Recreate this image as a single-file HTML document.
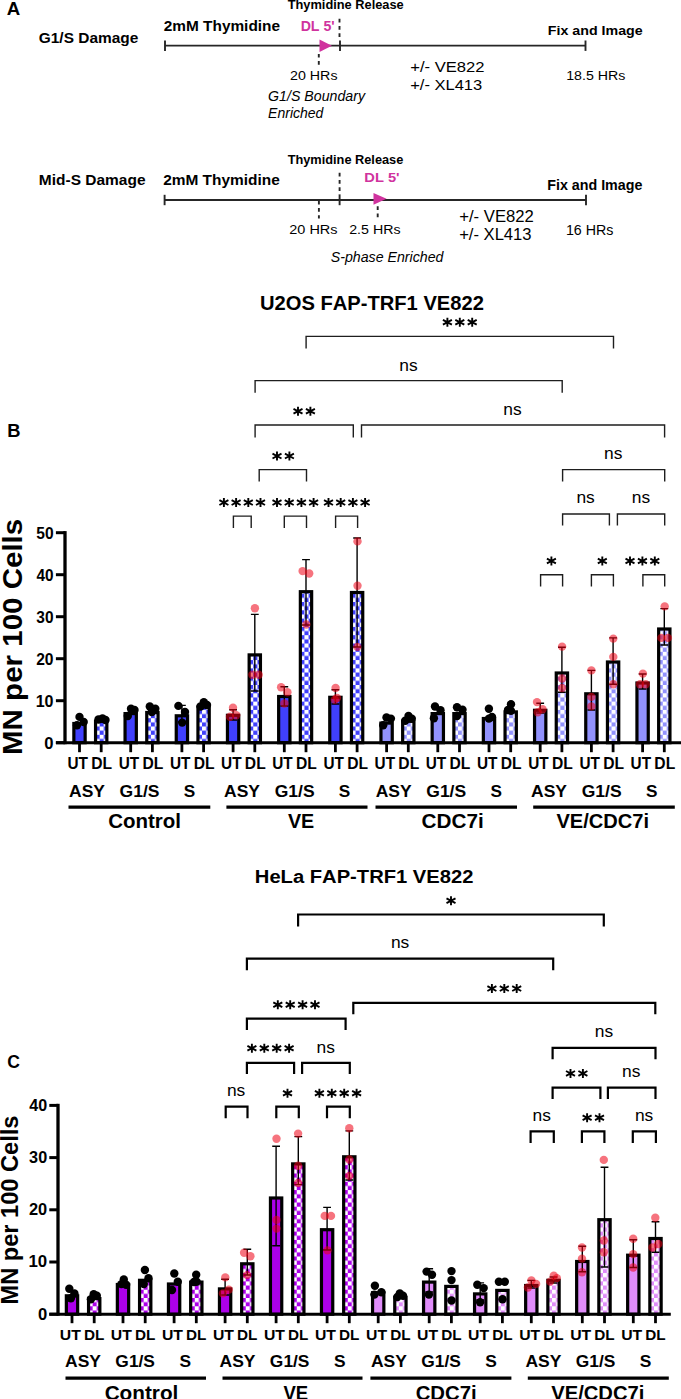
<!DOCTYPE html>
<html><head><meta charset="utf-8"><title>Figure</title>
<style>
html,body{margin:0;padding:0;background:#fff;width:681px;height:1399px;overflow:hidden;}
svg{display:block;}
text{font-family:"Liberation Sans",sans-serif;font-kerning:none;}
</style></head>
<body>
<svg width="681" height="1399" viewBox="0 0 681 1399">
<defs><pattern id="p1" patternUnits="userSpaceOnUse" x="99.65" y="743.10" width="8.3" height="8.3"><rect width="8.3" height="8.3" fill="#fff"/><rect x="0" y="4.15" width="4.15" height="4.15" fill="#4040fc"/><rect x="4.15" y="0" width="4.15" height="4.15" fill="#4040fc"/></pattern><pattern id="p2" patternUnits="userSpaceOnUse" x="150.85" y="743.10" width="8.3" height="8.3"><rect width="8.3" height="8.3" fill="#fff"/><rect x="0" y="4.15" width="4.15" height="4.15" fill="#4040fc"/><rect x="4.15" y="0" width="4.15" height="4.15" fill="#4040fc"/></pattern><pattern id="p3" patternUnits="userSpaceOnUse" x="202.05" y="743.10" width="8.3" height="8.3"><rect width="8.3" height="8.3" fill="#fff"/><rect x="0" y="4.15" width="4.15" height="4.15" fill="#4040fc"/><rect x="4.15" y="0" width="4.15" height="4.15" fill="#4040fc"/></pattern><pattern id="p4" patternUnits="userSpaceOnUse" x="253.25" y="743.10" width="8.3" height="8.3"><rect width="8.3" height="8.3" fill="#fff"/><rect x="0" y="4.15" width="4.15" height="4.15" fill="#4040fc"/><rect x="4.15" y="0" width="4.15" height="4.15" fill="#4040fc"/></pattern><pattern id="p5" patternUnits="userSpaceOnUse" x="304.45" y="743.10" width="8.3" height="8.3"><rect width="8.3" height="8.3" fill="#fff"/><rect x="0" y="4.15" width="4.15" height="4.15" fill="#4040fc"/><rect x="4.15" y="0" width="4.15" height="4.15" fill="#4040fc"/></pattern><pattern id="p6" patternUnits="userSpaceOnUse" x="355.55" y="743.10" width="8.3" height="8.3"><rect width="8.3" height="8.3" fill="#fff"/><rect x="0" y="4.15" width="4.15" height="4.15" fill="#4040fc"/><rect x="4.15" y="0" width="4.15" height="4.15" fill="#4040fc"/></pattern><pattern id="p7" patternUnits="userSpaceOnUse" x="406.75" y="743.10" width="8.3" height="8.3"><rect width="8.3" height="8.3" fill="#fff"/><rect x="0" y="4.15" width="4.15" height="4.15" fill="#9292fd"/><rect x="4.15" y="0" width="4.15" height="4.15" fill="#9292fd"/></pattern><pattern id="p8" patternUnits="userSpaceOnUse" x="457.95" y="743.10" width="8.3" height="8.3"><rect width="8.3" height="8.3" fill="#fff"/><rect x="0" y="4.15" width="4.15" height="4.15" fill="#9292fd"/><rect x="4.15" y="0" width="4.15" height="4.15" fill="#9292fd"/></pattern><pattern id="p9" patternUnits="userSpaceOnUse" x="509.15" y="743.10" width="8.3" height="8.3"><rect width="8.3" height="8.3" fill="#fff"/><rect x="0" y="4.15" width="4.15" height="4.15" fill="#9292fd"/><rect x="4.15" y="0" width="4.15" height="4.15" fill="#9292fd"/></pattern><pattern id="p10" patternUnits="userSpaceOnUse" x="560.35" y="743.10" width="8.3" height="8.3"><rect width="8.3" height="8.3" fill="#fff"/><rect x="0" y="4.15" width="4.15" height="4.15" fill="#9292fd"/><rect x="4.15" y="0" width="4.15" height="4.15" fill="#9292fd"/></pattern><pattern id="p11" patternUnits="userSpaceOnUse" x="611.55" y="743.10" width="8.3" height="8.3"><rect width="8.3" height="8.3" fill="#fff"/><rect x="0" y="4.15" width="4.15" height="4.15" fill="#9292fd"/><rect x="4.15" y="0" width="4.15" height="4.15" fill="#9292fd"/></pattern><pattern id="p12" patternUnits="userSpaceOnUse" x="662.75" y="743.10" width="8.3" height="8.3"><rect width="8.3" height="8.3" fill="#fff"/><rect x="0" y="4.15" width="4.15" height="4.15" fill="#9292fd"/><rect x="4.15" y="0" width="4.15" height="4.15" fill="#9292fd"/></pattern><pattern id="p13" patternUnits="userSpaceOnUse" x="92.65" y="1314.60" width="8.3" height="8.3"><rect width="8.3" height="8.3" fill="#fff"/><rect x="0" y="4.15" width="4.15" height="4.15" fill="#ac00ea"/><rect x="4.15" y="0" width="4.15" height="4.15" fill="#ac00ea"/></pattern><pattern id="p14" patternUnits="userSpaceOnUse" x="143.65" y="1314.60" width="8.3" height="8.3"><rect width="8.3" height="8.3" fill="#fff"/><rect x="0" y="4.15" width="4.15" height="4.15" fill="#ac00ea"/><rect x="4.15" y="0" width="4.15" height="4.15" fill="#ac00ea"/></pattern><pattern id="p15" patternUnits="userSpaceOnUse" x="194.75" y="1314.60" width="8.3" height="8.3"><rect width="8.3" height="8.3" fill="#fff"/><rect x="0" y="4.15" width="4.15" height="4.15" fill="#ac00ea"/><rect x="4.15" y="0" width="4.15" height="4.15" fill="#ac00ea"/></pattern><pattern id="p16" patternUnits="userSpaceOnUse" x="245.75" y="1314.60" width="8.3" height="8.3"><rect width="8.3" height="8.3" fill="#fff"/><rect x="0" y="4.15" width="4.15" height="4.15" fill="#ac00ea"/><rect x="4.15" y="0" width="4.15" height="4.15" fill="#ac00ea"/></pattern><pattern id="p17" patternUnits="userSpaceOnUse" x="296.75" y="1314.60" width="8.3" height="8.3"><rect width="8.3" height="8.3" fill="#fff"/><rect x="0" y="4.15" width="4.15" height="4.15" fill="#ac00ea"/><rect x="4.15" y="0" width="4.15" height="4.15" fill="#ac00ea"/></pattern><pattern id="p18" patternUnits="userSpaceOnUse" x="347.75" y="1314.60" width="8.3" height="8.3"><rect width="8.3" height="8.3" fill="#fff"/><rect x="0" y="4.15" width="4.15" height="4.15" fill="#ac00ea"/><rect x="4.15" y="0" width="4.15" height="4.15" fill="#ac00ea"/></pattern><pattern id="p19" patternUnits="userSpaceOnUse" x="398.85" y="1314.60" width="8.3" height="8.3"><rect width="8.3" height="8.3" fill="#fff"/><rect x="0" y="4.15" width="4.15" height="4.15" fill="#e08cfa"/><rect x="4.15" y="0" width="4.15" height="4.15" fill="#e08cfa"/></pattern><pattern id="p20" patternUnits="userSpaceOnUse" x="449.85" y="1314.60" width="8.3" height="8.3"><rect width="8.3" height="8.3" fill="#fff"/><rect x="0" y="4.15" width="4.15" height="4.15" fill="#e08cfa"/><rect x="4.15" y="0" width="4.15" height="4.15" fill="#e08cfa"/></pattern><pattern id="p21" patternUnits="userSpaceOnUse" x="500.85" y="1314.60" width="8.3" height="8.3"><rect width="8.3" height="8.3" fill="#fff"/><rect x="0" y="4.15" width="4.15" height="4.15" fill="#e08cfa"/><rect x="4.15" y="0" width="4.15" height="4.15" fill="#e08cfa"/></pattern><pattern id="p22" patternUnits="userSpaceOnUse" x="551.95" y="1314.60" width="8.3" height="8.3"><rect width="8.3" height="8.3" fill="#fff"/><rect x="0" y="4.15" width="4.15" height="4.15" fill="#e08cfa"/><rect x="4.15" y="0" width="4.15" height="4.15" fill="#e08cfa"/></pattern><pattern id="p23" patternUnits="userSpaceOnUse" x="602.95" y="1314.60" width="8.3" height="8.3"><rect width="8.3" height="8.3" fill="#fff"/><rect x="0" y="4.15" width="4.15" height="4.15" fill="#e08cfa"/><rect x="4.15" y="0" width="4.15" height="4.15" fill="#e08cfa"/></pattern><pattern id="p24" patternUnits="userSpaceOnUse" x="653.95" y="1314.60" width="8.3" height="8.3"><rect width="8.3" height="8.3" fill="#fff"/><rect x="0" y="4.15" width="4.15" height="4.15" fill="#e08cfa"/><rect x="4.15" y="0" width="4.15" height="4.15" fill="#e08cfa"/></pattern></defs>
<text x="6.84" y="14.60" font-size="18.02" textLength="13.46" lengthAdjust="spacingAndGlyphs" font-weight="bold">A</text>
<text x="38.77" y="43.10" font-size="15.12" textLength="99.56" lengthAdjust="spacingAndGlyphs" font-weight="bold">G1/S Damage</text>
<text x="163.77" y="30.80" font-size="14.39" textLength="116.26" lengthAdjust="spacingAndGlyphs" font-weight="bold">2mM Thymidine</text>
<text x="287.66" y="8.80" font-size="12.79" textLength="116.08" lengthAdjust="spacingAndGlyphs" font-weight="bold">Thymidine Release</text>
<text x="300.65" y="30.80" font-size="14.39" textLength="34.08" lengthAdjust="spacingAndGlyphs" font-weight="bold" fill="#d0339e">DL 5&#39;</text>
<text x="290.08" y="80.30" font-size="13.66" textLength="47.43" lengthAdjust="spacingAndGlyphs">20 HRs</text>
<text x="268.10" y="101.40" font-size="14.10" textLength="96.89" lengthAdjust="spacingAndGlyphs" font-style="italic">G1/S Boundary</text>
<text x="268.07" y="117.80" font-size="14.39" textLength="55.36" lengthAdjust="spacingAndGlyphs" font-style="italic">Enriched</text>
<text x="410.19" y="71.70" font-size="15.55" textLength="74.35" lengthAdjust="spacingAndGlyphs">+/- VE822</text>
<text x="410.19" y="90.40" font-size="15.55" textLength="72.03" lengthAdjust="spacingAndGlyphs">+/- XL413</text>
<text x="547.85" y="35.30" font-size="13.66" textLength="94.84" lengthAdjust="spacingAndGlyphs" font-weight="bold">Fix and Image</text>
<text x="566.22" y="79.80" font-size="13.08" textLength="59.19" lengthAdjust="spacingAndGlyphs">18.5 HRs</text>
<text x="38.86" y="185.20" font-size="15.26" textLength="106.66" lengthAdjust="spacingAndGlyphs" font-weight="bold">Mid-S Damage</text>
<text x="163.16" y="185.00" font-size="14.83" textLength="116.66" lengthAdjust="spacingAndGlyphs" font-weight="bold">2mM Thymidine</text>
<text x="287.66" y="163.50" font-size="12.79" textLength="115.68" lengthAdjust="spacingAndGlyphs" font-weight="bold">Thymidine Release</text>
<text x="364.32" y="182.00" font-size="13.37" textLength="35.24" lengthAdjust="spacingAndGlyphs" font-weight="bold" fill="#d0339e">DL 5&#39;</text>
<text x="289.27" y="233.70" font-size="13.37" textLength="48.25" lengthAdjust="spacingAndGlyphs">20 HRs</text>
<text x="349.19" y="233.70" font-size="13.37" textLength="51.33" lengthAdjust="spacingAndGlyphs">2.5 HRs</text>
<text x="330.70" y="262.00" font-size="13.81" textLength="112.83" lengthAdjust="spacingAndGlyphs" font-style="italic">S-phase Enriched</text>
<text x="547.25" y="190.20" font-size="13.95" textLength="95.14" lengthAdjust="spacingAndGlyphs" font-weight="bold">Fix and Image</text>
<text x="459.19" y="222.00" font-size="15.70" textLength="74.65" lengthAdjust="spacingAndGlyphs">+/- VE822</text>
<text x="459.19" y="240.40" font-size="15.70" textLength="72.34" lengthAdjust="spacingAndGlyphs">+/- XL413</text>
<text x="565.91" y="234.50" font-size="13.95" textLength="47.50" lengthAdjust="spacingAndGlyphs">16 HRs</text>
<line x1="165" y1="45.7" x2="585.5" y2="45.7" stroke="#262626" stroke-width="1.8"/><line x1="165" y1="40.5" x2="165" y2="50.900000000000006" stroke="#262626" stroke-width="1.9"/><line x1="340" y1="40.5" x2="340" y2="50.900000000000006" stroke="#262626" stroke-width="1.9"/><line x1="585.5" y1="40.5" x2="585.5" y2="50.900000000000006" stroke="#262626" stroke-width="1.9"/>
<line x1="339.5" y1="18.8" x2="339.5" y2="40.0" stroke="#262626" stroke-width="1.9" stroke-dasharray="3.7 3.5"/>
<line x1="318.8" y1="53.9" x2="318.8" y2="65.0" stroke="#262626" stroke-width="1.9" stroke-dasharray="3.7 3.5"/>
<polygon points="319.5,39.5 331.9,45.75 319.5,52.0" fill="#d0339e"/>
<line x1="164.6" y1="200.0" x2="586.0" y2="200.0" stroke="#262626" stroke-width="1.8"/><line x1="164.6" y1="194.8" x2="164.6" y2="205.2" stroke="#262626" stroke-width="1.9"/><line x1="339.6" y1="194.8" x2="339.6" y2="205.2" stroke="#262626" stroke-width="1.9"/><line x1="586.0" y1="194.8" x2="586.0" y2="205.2" stroke="#262626" stroke-width="1.9"/>
<line x1="339.6" y1="172.8" x2="339.6" y2="195.0" stroke="#262626" stroke-width="1.9" stroke-dasharray="3.7 3.5"/>
<line x1="318.9" y1="200.8" x2="318.9" y2="218.5" stroke="#262626" stroke-width="1.9" stroke-dasharray="3.7 3.5"/>
<line x1="377.7" y1="206.3" x2="377.7" y2="218.5" stroke="#262626" stroke-width="1.9" stroke-dasharray="3.7 3.5"/>
<polygon points="373.5,192.9 386.5,198.85000000000002 373.5,204.8" fill="#d0339e"/>
<rect x="73.85" y="723.50" width="11.3" height="19.20" fill="#4040fc" stroke="#000" stroke-width="3.2"/><rect x="95.55" y="721.30" width="11.3" height="21.40" fill="url(#p1)" stroke="#000" stroke-width="3.2"/><rect x="125.05" y="713.60" width="11.3" height="29.10" fill="#4040fc" stroke="#000" stroke-width="3.2"/><rect x="146.75" y="712.50" width="11.3" height="30.20" fill="url(#p2)" stroke="#000" stroke-width="3.2"/><rect x="176.25" y="715.80" width="11.3" height="26.90" fill="#4040fc" stroke="#000" stroke-width="3.2"/><rect x="197.95" y="707.00" width="11.3" height="35.70" fill="url(#p3)" stroke="#000" stroke-width="3.2"/><rect x="227.45" y="715.30" width="11.3" height="27.40" fill="#4040fc" stroke="#000" stroke-width="3.2"/><rect x="249.15" y="654.90" width="11.3" height="87.80" fill="url(#p4)" stroke="#000" stroke-width="3.2"/><rect x="278.65" y="696.50" width="11.3" height="46.20" fill="#4040fc" stroke="#000" stroke-width="3.2"/><rect x="300.35" y="591.70" width="11.3" height="151.00" fill="url(#p5)" stroke="#000" stroke-width="3.2"/><rect x="329.75" y="697.30" width="11.3" height="45.40" fill="#4040fc" stroke="#000" stroke-width="3.2"/><rect x="351.45" y="592.50" width="11.3" height="150.20" fill="url(#p6)" stroke="#000" stroke-width="3.2"/><rect x="380.95" y="723.10" width="11.3" height="19.60" fill="#9292fd" stroke="#000" stroke-width="3.2"/><rect x="402.65" y="721.30" width="11.3" height="21.40" fill="url(#p7)" stroke="#000" stroke-width="3.2"/><rect x="432.15" y="713.60" width="11.3" height="29.10" fill="#9292fd" stroke="#000" stroke-width="3.2"/><rect x="453.85" y="713.60" width="11.3" height="29.10" fill="url(#p8)" stroke="#000" stroke-width="3.2"/><rect x="483.35" y="718.50" width="11.3" height="24.20" fill="#9292fd" stroke="#000" stroke-width="3.2"/><rect x="505.05" y="711.90" width="11.3" height="30.80" fill="url(#p9)" stroke="#000" stroke-width="3.2"/><rect x="534.55" y="710.30" width="11.3" height="32.40" fill="#9292fd" stroke="#000" stroke-width="3.2"/><rect x="556.25" y="673.00" width="11.3" height="69.70" fill="url(#p10)" stroke="#000" stroke-width="3.2"/><rect x="585.75" y="693.80" width="11.3" height="48.90" fill="#9292fd" stroke="#000" stroke-width="3.2"/><rect x="607.45" y="662.00" width="11.3" height="80.70" fill="url(#p11)" stroke="#000" stroke-width="3.2"/><rect x="636.95" y="683.00" width="11.3" height="59.70" fill="#9292fd" stroke="#000" stroke-width="3.2"/><rect x="658.65" y="629.00" width="11.3" height="113.70" fill="url(#p12)" stroke="#000" stroke-width="3.2"/><circle cx="79.5" cy="716.9" r="4.2" fill="#000"/><circle cx="83.7" cy="722" r="4.2" fill="#000"/><circle cx="77" cy="725.2" r="4.2" fill="#000"/><circle cx="98.5" cy="719.5" r="4.2" fill="#000"/><circle cx="102.5" cy="718.5" r="4.2" fill="#000"/><circle cx="105.5" cy="720" r="4.2" fill="#000"/><circle cx="131" cy="708.7" r="4.2" fill="#000"/><circle cx="127.8" cy="716" r="4.2" fill="#000"/><circle cx="134.5" cy="710" r="4.2" fill="#000"/><circle cx="149.8" cy="706.5" r="4.2" fill="#000"/><circle cx="155.3" cy="708.7" r="4.2" fill="#000"/><circle cx="151.8" cy="712" r="4.2" fill="#000"/><circle cx="178.4" cy="705.9" r="4.2" fill="#000"/><circle cx="185" cy="712" r="4.2" fill="#000"/><circle cx="182.2" cy="722.6" r="4.2" fill="#000"/><path d="M181.9 705.4V722M178.0 705.4H185.8M178.0 722H185.8" stroke="#000" stroke-width="1.4" fill="none"/><circle cx="203.8" cy="702.1" r="4.2" fill="#000"/><circle cx="207" cy="705" r="4.2" fill="#000"/><circle cx="200.5" cy="706.5" r="4.2" fill="#000"/><path d="M233.1 709.8V720M229.2 709.8H237.0M229.2 720H237.0" stroke="#000" stroke-width="1.4" fill="none"/><circle cx="233" cy="707.8" r="4.2" fill="#ee0014" fill-opacity="0.55"/><circle cx="230" cy="716.8" r="4.2" fill="#ee0014" fill-opacity="0.55"/><circle cx="236.2" cy="715.3" r="4.2" fill="#ee0014" fill-opacity="0.55"/><path d="M254.8 614.4V691M250.9 614.4H258.7M250.9 691H258.7" stroke="#000" stroke-width="1.4" fill="none"/><circle cx="254.9" cy="608.2" r="4.2" fill="#ee0014" fill-opacity="0.55"/><circle cx="252.4" cy="674.8" r="4.2" fill="#ee0014" fill-opacity="0.55"/><circle cx="258.7" cy="674.8" r="4.2" fill="#ee0014" fill-opacity="0.55"/><path d="M284.3 686.8V706M280.40000000000003 686.8H288.2M280.40000000000003 706H288.2" stroke="#000" stroke-width="1.4" fill="none"/><circle cx="281.1" cy="687.3" r="4.2" fill="#ee0014" fill-opacity="0.55"/><circle cx="287.4" cy="692.3" r="4.2" fill="#ee0014" fill-opacity="0.55"/><circle cx="284.4" cy="703.5" r="4.2" fill="#ee0014" fill-opacity="0.55"/><path d="M306.0 559.6V625M302.1 559.6H309.9M302.1 625H309.9" stroke="#000" stroke-width="1.4" fill="none"/><circle cx="302.6" cy="571.1" r="4.2" fill="#ee0014" fill-opacity="0.55"/><circle cx="309.2" cy="573.5" r="4.2" fill="#ee0014" fill-opacity="0.55"/><circle cx="306.3" cy="624.5" r="4.2" fill="#ee0014" fill-opacity="0.55"/><path d="M335.4 689.8V704M331.5 689.8H339.29999999999995M331.5 704H339.29999999999995" stroke="#000" stroke-width="1.4" fill="none"/><circle cx="335.6" cy="688" r="4.2" fill="#ee0014" fill-opacity="0.55"/><circle cx="334.8" cy="699.8" r="4.2" fill="#ee0014" fill-opacity="0.55"/><circle cx="337" cy="698" r="4.2" fill="#ee0014" fill-opacity="0.55"/><path d="M357.1 538.0V647M353.20000000000005 538.0H361.0M353.20000000000005 647H361.0" stroke="#000" stroke-width="1.4" fill="none"/><circle cx="357.5" cy="541.4" r="4.2" fill="#ee0014" fill-opacity="0.55"/><circle cx="357.5" cy="585.7" r="4.2" fill="#ee0014" fill-opacity="0.55"/><circle cx="357.3" cy="646.9" r="4.2" fill="#ee0014" fill-opacity="0.55"/><circle cx="386.5" cy="717.5" r="4.2" fill="#000"/><circle cx="390.9" cy="718.6" r="4.2" fill="#000"/><circle cx="383.2" cy="725.2" r="4.2" fill="#000"/><circle cx="408.5" cy="716" r="4.2" fill="#000"/><circle cx="411.8" cy="718.6" r="4.2" fill="#000"/><circle cx="405.2" cy="720.8" r="4.2" fill="#000"/><circle cx="435" cy="706.5" r="4.2" fill="#000"/><circle cx="440.5" cy="710.3" r="4.2" fill="#000"/><circle cx="433.9" cy="718.2" r="4.2" fill="#000"/><circle cx="457" cy="707.2" r="4.2" fill="#000"/><circle cx="462.5" cy="709.8" r="4.2" fill="#000"/><circle cx="457" cy="716" r="4.2" fill="#000"/><circle cx="488.9" cy="708.7" r="4.2" fill="#000"/><circle cx="488.9" cy="718.6" r="4.2" fill="#000"/><circle cx="492" cy="717" r="4.2" fill="#000"/><circle cx="511" cy="704.3" r="4.2" fill="#000"/><circle cx="511" cy="710.9" r="4.2" fill="#000"/><circle cx="508" cy="710" r="4.2" fill="#000"/><path d="M540.2 703.3V713M536.3000000000001 703.3H544.1M536.3000000000001 713H544.1" stroke="#000" stroke-width="1.4" fill="none"/><circle cx="537" cy="702.1" r="4.2" fill="#ee0014" fill-opacity="0.55"/><circle cx="542.5" cy="709.2" r="4.2" fill="#ee0014" fill-opacity="0.55"/><circle cx="537.7" cy="712.3" r="4.2" fill="#ee0014" fill-opacity="0.55"/><path d="M561.9 647.3V692.2M558.0 647.3H565.8M558.0 692.2H565.8" stroke="#000" stroke-width="1.4" fill="none"/><circle cx="562.1" cy="646.6" r="4.2" fill="#ee0014" fill-opacity="0.55"/><circle cx="562.1" cy="678.5" r="4.2" fill="#ee0014" fill-opacity="0.55"/><circle cx="562.1" cy="688" r="4.2" fill="#ee0014" fill-opacity="0.55"/><path d="M591.4 670.4V710M587.5 670.4H595.3M587.5 710H595.3" stroke="#000" stroke-width="1.4" fill="none"/><circle cx="591.4" cy="670.4" r="4.2" fill="#ee0014" fill-opacity="0.55"/><circle cx="591.4" cy="696.9" r="4.2" fill="#ee0014" fill-opacity="0.55"/><circle cx="591.4" cy="706.4" r="4.2" fill="#ee0014" fill-opacity="0.55"/><path d="M613.1 637.9V684.3M609.2 637.9H617.0M609.2 684.3H617.0" stroke="#000" stroke-width="1.4" fill="none"/><circle cx="613.3" cy="638.6" r="4.2" fill="#ee0014" fill-opacity="0.55"/><circle cx="613.3" cy="656.9" r="4.2" fill="#ee0014" fill-opacity="0.55"/><circle cx="613.3" cy="684.3" r="4.2" fill="#ee0014" fill-opacity="0.55"/><path d="M642.6 674.0V689M638.7 674.0H646.5M638.7 689H646.5" stroke="#000" stroke-width="1.4" fill="none"/><circle cx="642.9" cy="673.6" r="4.2" fill="#ee0014" fill-opacity="0.55"/><circle cx="640" cy="684.3" r="4.2" fill="#ee0014" fill-opacity="0.55"/><circle cx="645.7" cy="684.3" r="4.2" fill="#ee0014" fill-opacity="0.55"/><path d="M664.3 608.6V645M660.4 608.6H668.1999999999999M660.4 645H668.1999999999999" stroke="#000" stroke-width="1.4" fill="none"/><circle cx="664.7" cy="606.4" r="4.2" fill="#ee0014" fill-opacity="0.55"/><circle cx="661.4" cy="637.9" r="4.2" fill="#ee0014" fill-opacity="0.55"/><circle cx="667.9" cy="637.9" r="4.2" fill="#ee0014" fill-opacity="0.55"/><line x1="65.0" y1="531.10" x2="65.0" y2="744.20" stroke="#000" stroke-width="3.3"/><line x1="55.9" y1="742.7" x2="681" y2="742.7" stroke="#000" stroke-width="3.0"/><line x1="55.9" y1="742.70" x2="65.0" y2="742.70" stroke="#000" stroke-width="3.0"/><line x1="55.9" y1="700.70" x2="65.0" y2="700.70" stroke="#000" stroke-width="3.0"/><line x1="55.9" y1="658.70" x2="65.0" y2="658.70" stroke="#000" stroke-width="3.0"/><line x1="55.9" y1="616.70" x2="65.0" y2="616.70" stroke="#000" stroke-width="3.0"/><line x1="55.9" y1="574.70" x2="65.0" y2="574.70" stroke="#000" stroke-width="3.0"/><line x1="55.9" y1="532.70" x2="65.0" y2="532.70" stroke="#000" stroke-width="3.0"/><line x1="79.5" y1="742.7" x2="79.5" y2="752.2" stroke="#000" stroke-width="2.8"/><line x1="101.2" y1="742.7" x2="101.2" y2="752.2" stroke="#000" stroke-width="2.8"/><line x1="130.7" y1="742.7" x2="130.7" y2="752.2" stroke="#000" stroke-width="2.8"/><line x1="152.4" y1="742.7" x2="152.4" y2="752.2" stroke="#000" stroke-width="2.8"/><line x1="181.9" y1="742.7" x2="181.9" y2="752.2" stroke="#000" stroke-width="2.8"/><line x1="203.6" y1="742.7" x2="203.6" y2="752.2" stroke="#000" stroke-width="2.8"/><line x1="233.1" y1="742.7" x2="233.1" y2="752.2" stroke="#000" stroke-width="2.8"/><line x1="254.8" y1="742.7" x2="254.8" y2="752.2" stroke="#000" stroke-width="2.8"/><line x1="284.3" y1="742.7" x2="284.3" y2="752.2" stroke="#000" stroke-width="2.8"/><line x1="306.0" y1="742.7" x2="306.0" y2="752.2" stroke="#000" stroke-width="2.8"/><line x1="335.4" y1="742.7" x2="335.4" y2="752.2" stroke="#000" stroke-width="2.8"/><line x1="357.1" y1="742.7" x2="357.1" y2="752.2" stroke="#000" stroke-width="2.8"/><line x1="386.6" y1="742.7" x2="386.6" y2="752.2" stroke="#000" stroke-width="2.8"/><line x1="408.3" y1="742.7" x2="408.3" y2="752.2" stroke="#000" stroke-width="2.8"/><line x1="437.8" y1="742.7" x2="437.8" y2="752.2" stroke="#000" stroke-width="2.8"/><line x1="459.5" y1="742.7" x2="459.5" y2="752.2" stroke="#000" stroke-width="2.8"/><line x1="489.0" y1="742.7" x2="489.0" y2="752.2" stroke="#000" stroke-width="2.8"/><line x1="510.7" y1="742.7" x2="510.7" y2="752.2" stroke="#000" stroke-width="2.8"/><line x1="540.2" y1="742.7" x2="540.2" y2="752.2" stroke="#000" stroke-width="2.8"/><line x1="561.9" y1="742.7" x2="561.9" y2="752.2" stroke="#000" stroke-width="2.8"/><line x1="591.4" y1="742.7" x2="591.4" y2="752.2" stroke="#000" stroke-width="2.8"/><line x1="613.1" y1="742.7" x2="613.1" y2="752.2" stroke="#000" stroke-width="2.8"/><line x1="642.6" y1="742.7" x2="642.6" y2="752.2" stroke="#000" stroke-width="2.8"/><line x1="664.3" y1="742.7" x2="664.3" y2="752.2" stroke="#000" stroke-width="2.8"/>
<text x="259.99" y="309.80" font-size="19.48" textLength="223.92" lengthAdjust="spacingAndGlyphs" font-weight="bold">U2OS FAP-TRF1 VE822</text>
<text x="7.17" y="436.90" font-size="18.75" textLength="13.26" lengthAdjust="spacingAndGlyphs" font-weight="bold">B</text>
<text transform="translate(22.00,754.97) rotate(-90)" x="0" y="0" font-size="28.20" font-weight="bold" textLength="236.18" lengthAdjust="spacingAndGlyphs">MN per 100 Cells</text>
<text x="44.34" y="749.00" font-size="15.99" textLength="9.24" lengthAdjust="spacingAndGlyphs" font-weight="bold">0</text>
<text x="35.69" y="707.00" font-size="15.99" textLength="17.87" lengthAdjust="spacingAndGlyphs" font-weight="bold">10</text>
<text x="36.16" y="665.00" font-size="15.99" textLength="17.38" lengthAdjust="spacingAndGlyphs" font-weight="bold">20</text>
<text x="36.35" y="623.00" font-size="15.99" textLength="17.19" lengthAdjust="spacingAndGlyphs" font-weight="bold">30</text>
<text x="36.47" y="581.00" font-size="15.99" textLength="17.06" lengthAdjust="spacingAndGlyphs" font-weight="bold">40</text>
<text x="36.22" y="539.00" font-size="15.99" textLength="17.32" lengthAdjust="spacingAndGlyphs" font-weight="bold">50</text>
<text x="67.48" y="768.80" font-size="16.28" textLength="20.49" lengthAdjust="spacingAndGlyphs" font-weight="bold">UT</text>
<text x="91.25" y="768.80" font-size="16.28" textLength="20.83" lengthAdjust="spacingAndGlyphs" font-weight="bold">DL</text>
<text x="118.68" y="768.80" font-size="16.28" textLength="20.49" lengthAdjust="spacingAndGlyphs" font-weight="bold">UT</text>
<text x="142.45" y="768.80" font-size="16.28" textLength="20.83" lengthAdjust="spacingAndGlyphs" font-weight="bold">DL</text>
<text x="169.88" y="768.80" font-size="16.28" textLength="20.49" lengthAdjust="spacingAndGlyphs" font-weight="bold">UT</text>
<text x="193.65" y="768.80" font-size="16.28" textLength="20.83" lengthAdjust="spacingAndGlyphs" font-weight="bold">DL</text>
<text x="221.08" y="768.80" font-size="16.28" textLength="20.49" lengthAdjust="spacingAndGlyphs" font-weight="bold">UT</text>
<text x="244.85" y="768.80" font-size="16.28" textLength="20.83" lengthAdjust="spacingAndGlyphs" font-weight="bold">DL</text>
<text x="272.28" y="768.80" font-size="16.28" textLength="20.49" lengthAdjust="spacingAndGlyphs" font-weight="bold">UT</text>
<text x="296.05" y="768.80" font-size="16.28" textLength="20.83" lengthAdjust="spacingAndGlyphs" font-weight="bold">DL</text>
<text x="323.38" y="768.80" font-size="16.28" textLength="20.49" lengthAdjust="spacingAndGlyphs" font-weight="bold">UT</text>
<text x="347.15" y="768.80" font-size="16.28" textLength="20.83" lengthAdjust="spacingAndGlyphs" font-weight="bold">DL</text>
<text x="374.58" y="768.80" font-size="16.28" textLength="20.49" lengthAdjust="spacingAndGlyphs" font-weight="bold">UT</text>
<text x="398.35" y="768.80" font-size="16.28" textLength="20.83" lengthAdjust="spacingAndGlyphs" font-weight="bold">DL</text>
<text x="425.78" y="768.80" font-size="16.28" textLength="20.49" lengthAdjust="spacingAndGlyphs" font-weight="bold">UT</text>
<text x="449.55" y="768.80" font-size="16.28" textLength="20.83" lengthAdjust="spacingAndGlyphs" font-weight="bold">DL</text>
<text x="476.98" y="768.80" font-size="16.28" textLength="20.49" lengthAdjust="spacingAndGlyphs" font-weight="bold">UT</text>
<text x="500.75" y="768.80" font-size="16.28" textLength="20.83" lengthAdjust="spacingAndGlyphs" font-weight="bold">DL</text>
<text x="528.18" y="768.80" font-size="16.28" textLength="20.49" lengthAdjust="spacingAndGlyphs" font-weight="bold">UT</text>
<text x="551.95" y="768.80" font-size="16.28" textLength="20.83" lengthAdjust="spacingAndGlyphs" font-weight="bold">DL</text>
<text x="579.38" y="768.80" font-size="16.28" textLength="20.49" lengthAdjust="spacingAndGlyphs" font-weight="bold">UT</text>
<text x="603.15" y="768.80" font-size="16.28" textLength="20.83" lengthAdjust="spacingAndGlyphs" font-weight="bold">DL</text>
<text x="630.58" y="768.80" font-size="16.28" textLength="20.49" lengthAdjust="spacingAndGlyphs" font-weight="bold">UT</text>
<text x="654.35" y="768.80" font-size="16.28" textLength="20.83" lengthAdjust="spacingAndGlyphs" font-weight="bold">DL</text>
<text x="69.02" y="796.70" font-size="17.15" textLength="35.92" lengthAdjust="spacingAndGlyphs" font-weight="bold">ASY</text>
<text x="119.58" y="796.70" font-size="17.15" textLength="39.90" lengthAdjust="spacingAndGlyphs" font-weight="bold">G1/S</text>
<text x="183.80" y="796.70" font-size="17.15" textLength="11.47" lengthAdjust="spacingAndGlyphs" font-weight="bold">S</text>
<text x="224.12" y="796.70" font-size="17.15" textLength="35.92" lengthAdjust="spacingAndGlyphs" font-weight="bold">ASY</text>
<text x="274.68" y="796.70" font-size="17.15" textLength="39.90" lengthAdjust="spacingAndGlyphs" font-weight="bold">G1/S</text>
<text x="338.80" y="796.70" font-size="17.15" textLength="11.47" lengthAdjust="spacingAndGlyphs" font-weight="bold">S</text>
<text x="375.72" y="796.70" font-size="17.15" textLength="35.92" lengthAdjust="spacingAndGlyphs" font-weight="bold">ASY</text>
<text x="426.28" y="796.70" font-size="17.15" textLength="39.90" lengthAdjust="spacingAndGlyphs" font-weight="bold">G1/S</text>
<text x="490.50" y="796.70" font-size="17.15" textLength="11.47" lengthAdjust="spacingAndGlyphs" font-weight="bold">S</text>
<text x="531.12" y="796.70" font-size="17.15" textLength="35.92" lengthAdjust="spacingAndGlyphs" font-weight="bold">ASY</text>
<text x="581.68" y="796.70" font-size="17.15" textLength="39.90" lengthAdjust="spacingAndGlyphs" font-weight="bold">G1/S</text>
<text x="645.90" y="796.70" font-size="17.15" textLength="11.47" lengthAdjust="spacingAndGlyphs" font-weight="bold">S</text>
<line x1="68.5" y1="807.1" x2="210.3" y2="807.1" stroke="#000" stroke-width="3.4"/>
<line x1="226.4" y1="807.1" x2="367.5" y2="807.1" stroke="#000" stroke-width="3.4"/>
<line x1="375.5" y1="807.1" x2="517.0" y2="807.1" stroke="#000" stroke-width="3.4"/>
<line x1="533.2" y1="807.1" x2="674.8" y2="807.1" stroke="#000" stroke-width="3.4"/>
<text x="108.16" y="828.20" font-size="19.33" textLength="72.79" lengthAdjust="spacingAndGlyphs" font-weight="bold">Control</text>
<text x="287.97" y="828.20" font-size="19.33" textLength="26.31" lengthAdjust="spacingAndGlyphs" font-weight="bold">VE</text>
<text x="421.55" y="828.20" font-size="19.33" textLength="62.11" lengthAdjust="spacingAndGlyphs" font-weight="bold">CDC7i</text>
<text x="556.46" y="828.20" font-size="19.33" textLength="92.66" lengthAdjust="spacingAndGlyphs" font-weight="bold">VE/CDC7i</text>
<path d="M306.1 348.6V336.4H613.5V348.6" stroke="#1e1e1e" stroke-width="1.4" fill="none" stroke-linejoin="miter"/>
<path d="M255.1 392.8V380.6H562.2V392.8" stroke="#1e1e1e" stroke-width="1.4" fill="none" stroke-linejoin="miter"/>
<path d="M255.1 437.5V425.0H353.3V437.5" stroke="#1e1e1e" stroke-width="1.4" fill="none" stroke-linejoin="miter"/>
<path d="M361.5 437.5V425.0H664.6V437.5" stroke="#1e1e1e" stroke-width="1.4" fill="none" stroke-linejoin="miter"/>
<path d="M259.2 481.4V469.6H306.5V481.4" stroke="#1e1e1e" stroke-width="1.4" fill="none" stroke-linejoin="miter"/>
<path d="M562.6 481.4V469.6H664.7V481.4" stroke="#1e1e1e" stroke-width="1.4" fill="none" stroke-linejoin="miter"/>
<path d="M233.4 528.0V516.1H251.2V528.0" stroke="#1e1e1e" stroke-width="1.4" fill="none" stroke-linejoin="miter"/>
<path d="M284.3 528.0V516.1H306.5V528.0" stroke="#1e1e1e" stroke-width="1.4" fill="none" stroke-linejoin="miter"/>
<path d="M335.6 528.0V516.1H357.6V528.0" stroke="#1e1e1e" stroke-width="1.4" fill="none" stroke-linejoin="miter"/>
<path d="M562.6 525.6V514.0H609.4V525.6" stroke="#1e1e1e" stroke-width="1.4" fill="none" stroke-linejoin="miter"/>
<path d="M617.4 525.6V514.0H664.7V525.6" stroke="#1e1e1e" stroke-width="1.4" fill="none" stroke-linejoin="miter"/>
<path d="M540.6 586.6V574.8H562.6V586.6" stroke="#1e1e1e" stroke-width="1.4" fill="none" stroke-linejoin="miter"/>
<path d="M591.4 586.6V574.8H613.4V586.6" stroke="#1e1e1e" stroke-width="1.4" fill="none" stroke-linejoin="miter"/>
<path d="M642.9 586.6V574.8H664.7V586.6" stroke="#1e1e1e" stroke-width="1.4" fill="none" stroke-linejoin="miter"/>
<path d="M447.40 317.80V326.80M442.90 319.91L451.90 324.69M442.90 324.69L451.90 319.91" stroke="#000" stroke-width="1.9" fill="none"/><path d="M459.80 317.80V326.80M455.30 319.91L464.30 324.69M455.30 324.69L464.30 319.91" stroke="#000" stroke-width="1.9" fill="none"/><path d="M472.20 317.80V326.80M467.70 319.91L476.70 324.69M467.70 324.69L476.70 319.91" stroke="#000" stroke-width="1.9" fill="none"/>
<text x="399.24" y="370.90" font-size="16.30" textLength="18.38" lengthAdjust="spacingAndGlyphs">ns</text>
<path d="M298.00 406.80V415.80M293.50 408.91L302.50 413.69M293.50 413.69L302.50 408.91" stroke="#000" stroke-width="1.9" fill="none"/><path d="M310.40 406.80V415.80M305.90 408.91L314.90 413.69M305.90 413.69L314.90 408.91" stroke="#000" stroke-width="1.9" fill="none"/>
<text x="503.24" y="415.00" font-size="16.30" textLength="18.38" lengthAdjust="spacingAndGlyphs">ns</text>
<path d="M277.00 451.60V460.60M272.50 453.71L281.50 458.49M272.50 458.49L281.50 453.71" stroke="#000" stroke-width="1.9" fill="none"/><path d="M289.40 451.60V460.60M284.90 453.71L293.90 458.49M284.90 458.49L293.90 453.71" stroke="#000" stroke-width="1.9" fill="none"/>
<path d="M223.90 498.10V507.10M219.40 500.21L228.40 504.99M219.40 504.99L228.40 500.21" stroke="#000" stroke-width="1.9" fill="none"/><path d="M236.10 498.10V507.10M231.60 500.21L240.60 504.99M231.60 504.99L240.60 500.21" stroke="#000" stroke-width="1.9" fill="none"/><path d="M248.30 498.10V507.10M243.80 500.21L252.80 504.99M243.80 504.99L252.80 500.21" stroke="#000" stroke-width="1.9" fill="none"/><path d="M260.50 498.10V507.10M256.00 500.21L265.00 504.99M256.00 504.99L265.00 500.21" stroke="#000" stroke-width="1.9" fill="none"/>
<path d="M277.00 498.10V507.10M272.50 500.21L281.50 504.99M272.50 504.99L281.50 500.21" stroke="#000" stroke-width="1.9" fill="none"/><path d="M289.20 498.10V507.10M284.70 500.21L293.70 504.99M284.70 504.99L293.70 500.21" stroke="#000" stroke-width="1.9" fill="none"/><path d="M301.40 498.10V507.10M296.90 500.21L305.90 504.99M296.90 504.99L305.90 500.21" stroke="#000" stroke-width="1.9" fill="none"/><path d="M313.60 498.10V507.10M309.10 500.21L318.10 504.99M309.10 504.99L318.10 500.21" stroke="#000" stroke-width="1.9" fill="none"/>
<path d="M328.50 498.10V507.10M324.00 500.21L333.00 504.99M324.00 504.99L333.00 500.21" stroke="#000" stroke-width="1.9" fill="none"/><path d="M340.70 498.10V507.10M336.20 500.21L345.20 504.99M336.20 504.99L345.20 500.21" stroke="#000" stroke-width="1.9" fill="none"/><path d="M352.90 498.10V507.10M348.40 500.21L357.40 504.99M348.40 504.99L357.40 500.21" stroke="#000" stroke-width="1.9" fill="none"/><path d="M365.10 498.10V507.10M360.60 500.21L369.60 504.99M360.60 504.99L369.60 500.21" stroke="#000" stroke-width="1.9" fill="none"/>
<text x="604.14" y="458.90" font-size="16.30" textLength="18.38" lengthAdjust="spacingAndGlyphs">ns</text>
<text x="576.44" y="503.40" font-size="16.30" textLength="18.38" lengthAdjust="spacingAndGlyphs">ns</text>
<text x="631.74" y="503.40" font-size="16.30" textLength="18.38" lengthAdjust="spacingAndGlyphs">ns</text>
<path d="M551.40 556.50V565.50M546.90 558.61L555.90 563.39M546.90 563.39L555.90 558.61" stroke="#000" stroke-width="1.9" fill="none"/>
<path d="M602.30 556.50V565.50M597.80 558.61L606.80 563.39M597.80 563.39L606.80 558.61" stroke="#000" stroke-width="1.9" fill="none"/>
<path d="M630.00 556.50V565.50M625.50 558.61L634.50 563.39M625.50 563.39L634.50 558.61" stroke="#000" stroke-width="1.9" fill="none"/><path d="M642.40 556.50V565.50M637.90 558.61L646.90 563.39M637.90 563.39L646.90 558.61" stroke="#000" stroke-width="1.9" fill="none"/><path d="M654.80 556.50V565.50M650.30 558.61L659.30 563.39M650.30 563.39L659.30 558.61" stroke="#000" stroke-width="1.9" fill="none"/>
<rect x="66.35" y="1295.80" width="11.3" height="18.40" fill="#ac00ea" stroke="#000" stroke-width="3.2"/><rect x="88.55" y="1298.60" width="11.3" height="15.60" fill="url(#p13)" stroke="#000" stroke-width="3.2"/><rect x="117.35" y="1284.50" width="11.3" height="29.70" fill="#ac00ea" stroke="#000" stroke-width="3.2"/><rect x="139.55" y="1280.30" width="11.3" height="33.90" fill="url(#p14)" stroke="#000" stroke-width="3.2"/><rect x="168.45" y="1284.00" width="11.3" height="30.20" fill="#ac00ea" stroke="#000" stroke-width="3.2"/><rect x="190.65" y="1282.10" width="11.3" height="32.10" fill="url(#p15)" stroke="#000" stroke-width="3.2"/><rect x="219.45" y="1288.90" width="11.3" height="25.30" fill="#ac00ea" stroke="#000" stroke-width="3.2"/><rect x="241.65" y="1263.80" width="11.3" height="50.40" fill="url(#p16)" stroke="#000" stroke-width="3.2"/><rect x="270.45" y="1198.00" width="11.3" height="116.20" fill="#ac00ea" stroke="#000" stroke-width="3.2"/><rect x="292.65" y="1163.90" width="11.3" height="150.30" fill="url(#p17)" stroke="#000" stroke-width="3.2"/><rect x="321.45" y="1229.70" width="11.3" height="84.50" fill="#ac00ea" stroke="#000" stroke-width="3.2"/><rect x="343.65" y="1156.80" width="11.3" height="157.40" fill="url(#p18)" stroke="#000" stroke-width="3.2"/><rect x="372.55" y="1292.70" width="11.3" height="21.50" fill="#e08cfa" stroke="#000" stroke-width="3.2"/><rect x="394.75" y="1297.40" width="11.3" height="16.80" fill="url(#p19)" stroke="#000" stroke-width="3.2"/><rect x="423.55" y="1282.10" width="11.3" height="32.10" fill="#e08cfa" stroke="#000" stroke-width="3.2"/><rect x="445.75" y="1286.40" width="11.3" height="27.80" fill="url(#p20)" stroke="#000" stroke-width="3.2"/><rect x="474.55" y="1293.90" width="11.3" height="20.30" fill="#e08cfa" stroke="#000" stroke-width="3.2"/><rect x="496.75" y="1290.40" width="11.3" height="23.80" fill="url(#p21)" stroke="#000" stroke-width="3.2"/><rect x="525.65" y="1285.50" width="11.3" height="28.70" fill="#e08cfa" stroke="#000" stroke-width="3.2"/><rect x="547.85" y="1280.30" width="11.3" height="33.90" fill="url(#p22)" stroke="#000" stroke-width="3.2"/><rect x="576.65" y="1261.50" width="11.3" height="52.70" fill="#e08cfa" stroke="#000" stroke-width="3.2"/><rect x="598.85" y="1219.70" width="11.3" height="94.50" fill="url(#p23)" stroke="#000" stroke-width="3.2"/><rect x="627.65" y="1255.20" width="11.3" height="59.00" fill="#e08cfa" stroke="#000" stroke-width="3.2"/><rect x="649.85" y="1238.50" width="11.3" height="75.70" fill="url(#p24)" stroke="#000" stroke-width="3.2"/><circle cx="69.3" cy="1288.8" r="4.2" fill="#000"/><circle cx="74.4" cy="1293.5" r="4.2" fill="#000"/><circle cx="70.9" cy="1298.2" r="4.2" fill="#000"/><circle cx="93.7" cy="1294.2" r="4.2" fill="#000"/><circle cx="96.8" cy="1295.8" r="4.2" fill="#000"/><circle cx="90.9" cy="1299.3" r="4.2" fill="#000"/><circle cx="123.8" cy="1279.4" r="4.2" fill="#000"/><circle cx="121.4" cy="1284.1" r="4.2" fill="#000"/><circle cx="126.1" cy="1284.8" r="4.2" fill="#000"/><circle cx="144.9" cy="1270" r="4.2" fill="#000"/><circle cx="148.5" cy="1278.2" r="4.2" fill="#000"/><circle cx="143.8" cy="1284.1" r="4.2" fill="#000"/><circle cx="174.3" cy="1273.5" r="4.2" fill="#000"/><circle cx="177.8" cy="1281.7" r="4.2" fill="#000"/><circle cx="172" cy="1290" r="4.2" fill="#000"/><circle cx="196.2" cy="1274.7" r="4.2" fill="#000"/><circle cx="196.6" cy="1281.7" r="4.2" fill="#000"/><circle cx="194" cy="1282" r="4.2" fill="#000"/><path d="M225.1 1279.3V1295M221.2 1279.3H229.0M221.2 1295H229.0" stroke="#000" stroke-width="1.4" fill="none"/><circle cx="225.3" cy="1277.4" r="4.2" fill="#ee0014" fill-opacity="0.55"/><circle cx="222.9" cy="1293.4" r="4.2" fill="#ee0014" fill-opacity="0.55"/><circle cx="228.8" cy="1289.6" r="4.2" fill="#ee0014" fill-opacity="0.55"/><path d="M247.3 1249.2V1275M243.4 1249.2H251.20000000000002M243.4 1275H251.20000000000002" stroke="#000" stroke-width="1.4" fill="none"/><circle cx="244.1" cy="1252.8" r="4.2" fill="#ee0014" fill-opacity="0.55"/><circle cx="250.4" cy="1256.3" r="4.2" fill="#ee0014" fill-opacity="0.55"/><circle cx="247.1" cy="1275.1" r="4.2" fill="#ee0014" fill-opacity="0.55"/><path d="M276.1 1146.3V1245.7M272.20000000000005 1146.3H280.0M272.20000000000005 1245.7H280.0" stroke="#000" stroke-width="1.4" fill="none"/><circle cx="276.5" cy="1138.8" r="4.2" fill="#ee0014" fill-opacity="0.55"/><circle cx="276.5" cy="1219.9" r="4.2" fill="#ee0014" fill-opacity="0.55"/><circle cx="276.5" cy="1228.6" r="4.2" fill="#ee0014" fill-opacity="0.55"/><path d="M298.3 1136.6V1184.6M294.40000000000003 1136.6H302.2M294.40000000000003 1184.6H302.2" stroke="#000" stroke-width="1.4" fill="none"/><circle cx="298.1" cy="1133.6" r="4.2" fill="#ee0014" fill-opacity="0.55"/><circle cx="298.1" cy="1165.8" r="4.2" fill="#ee0014" fill-opacity="0.55"/><circle cx="298.1" cy="1183" r="4.2" fill="#ee0014" fill-opacity="0.55"/><path d="M327.1 1207.4V1250M323.20000000000005 1207.4H331.0M323.20000000000005 1250H331.0" stroke="#000" stroke-width="1.4" fill="none"/><circle cx="324.7" cy="1215.9" r="4.2" fill="#ee0014" fill-opacity="0.55"/><circle cx="331" cy="1215.9" r="4.2" fill="#ee0014" fill-opacity="0.55"/><circle cx="327.5" cy="1250.4" r="4.2" fill="#ee0014" fill-opacity="0.55"/><path d="M349.3 1130.9V1180M345.40000000000003 1130.9H353.2M345.40000000000003 1180H353.2" stroke="#000" stroke-width="1.4" fill="none"/><circle cx="349.3" cy="1128.2" r="4.2" fill="#ee0014" fill-opacity="0.55"/><circle cx="349.3" cy="1159.5" r="4.2" fill="#ee0014" fill-opacity="0.55"/><circle cx="349.3" cy="1175.9" r="4.2" fill="#ee0014" fill-opacity="0.55"/><circle cx="374.9" cy="1285.7" r="4.2" fill="#000"/><circle cx="381.4" cy="1292.3" r="4.2" fill="#000"/><circle cx="374.4" cy="1294.6" r="4.2" fill="#000"/><circle cx="399.8" cy="1293.5" r="4.2" fill="#000"/><circle cx="403" cy="1295.8" r="4.2" fill="#000"/><circle cx="397.4" cy="1297" r="4.2" fill="#000"/><circle cx="426.6" cy="1271.6" r="4.2" fill="#000"/><circle cx="432" cy="1274.7" r="4.2" fill="#000"/><circle cx="428.9" cy="1294.6" r="4.2" fill="#000"/><path d="M429.2 1268.8V1292M425.3 1268.8H433.09999999999997M425.3 1292H433.09999999999997" stroke="#000" stroke-width="1.4" fill="none"/><circle cx="451.5" cy="1271.1" r="4.2" fill="#000"/><circle cx="451.5" cy="1280.1" r="4.2" fill="#000"/><circle cx="451.5" cy="1300.5" r="4.2" fill="#000"/><circle cx="477.3" cy="1284.8" r="4.2" fill="#000"/><circle cx="483.7" cy="1288.1" r="4.2" fill="#000"/><circle cx="480.1" cy="1302.2" r="4.2" fill="#000"/><path d="M480.2 1282.9V1300M476.3 1282.9H484.09999999999997M476.3 1300H484.09999999999997" stroke="#000" stroke-width="1.4" fill="none"/><circle cx="498.9" cy="1281.7" r="4.2" fill="#000"/><circle cx="504.8" cy="1281.7" r="4.2" fill="#000"/><circle cx="502.5" cy="1299.3" r="4.2" fill="#000"/><path d="M531.3 1280.4V1288M527.4 1280.4H535.1999999999999M527.4 1288H535.1999999999999" stroke="#000" stroke-width="1.4" fill="none"/><circle cx="531.4" cy="1280.4" r="4.2" fill="#ee0014" fill-opacity="0.55"/><circle cx="527.9" cy="1287.5" r="4.2" fill="#ee0014" fill-opacity="0.55"/><circle cx="536.1" cy="1283.9" r="4.2" fill="#ee0014" fill-opacity="0.55"/><path d="M553.5 1277V1283M549.6 1277H557.4M549.6 1283H557.4" stroke="#000" stroke-width="1.4" fill="none"/><circle cx="553.8" cy="1275.7" r="4.2" fill="#ee0014" fill-opacity="0.55"/><circle cx="550.2" cy="1281.6" r="4.2" fill="#ee0014" fill-opacity="0.55"/><circle cx="556.8" cy="1278.1" r="4.2" fill="#ee0014" fill-opacity="0.55"/><path d="M582.3 1246.3V1271.7M578.4 1246.3H586.1999999999999M578.4 1271.7H586.1999999999999" stroke="#000" stroke-width="1.4" fill="none"/><circle cx="582" cy="1247.5" r="4.2" fill="#ee0014" fill-opacity="0.55"/><circle cx="582" cy="1258.6" r="4.2" fill="#ee0014" fill-opacity="0.55"/><circle cx="582" cy="1272.2" r="4.2" fill="#ee0014" fill-opacity="0.55"/><path d="M604.5 1167.2V1267M600.6 1167.2H608.4M600.6 1267H608.4" stroke="#000" stroke-width="1.4" fill="none"/><circle cx="603.8" cy="1159.9" r="4.2" fill="#ee0014" fill-opacity="0.55"/><circle cx="603.8" cy="1240.5" r="4.2" fill="#ee0014" fill-opacity="0.55"/><circle cx="603.8" cy="1252.2" r="4.2" fill="#ee0014" fill-opacity="0.55"/><path d="M633.3 1239.8V1267.5M629.4 1239.8H637.1999999999999M629.4 1267.5H637.1999999999999" stroke="#000" stroke-width="1.4" fill="none"/><circle cx="633.2" cy="1238.8" r="4.2" fill="#ee0014" fill-opacity="0.55"/><circle cx="633.2" cy="1254.1" r="4.2" fill="#ee0014" fill-opacity="0.55"/><circle cx="633.2" cy="1267.5" r="4.2" fill="#ee0014" fill-opacity="0.55"/><path d="M655.5 1221.7V1252.2M651.6 1221.7H659.4M651.6 1252.2H659.4" stroke="#000" stroke-width="1.4" fill="none"/><circle cx="655.3" cy="1217.7" r="4.2" fill="#ee0014" fill-opacity="0.55"/><circle cx="652.5" cy="1247.5" r="4.2" fill="#ee0014" fill-opacity="0.55"/><circle cx="658.3" cy="1244" r="4.2" fill="#ee0014" fill-opacity="0.55"/><line x1="58.0" y1="1103.80" x2="58.0" y2="1315.70" stroke="#000" stroke-width="3.3"/><line x1="49.3" y1="1314.2" x2="670.8" y2="1314.2" stroke="#000" stroke-width="3.0"/><line x1="49.3" y1="1314.20" x2="58.0" y2="1314.20" stroke="#000" stroke-width="3.0"/><line x1="49.3" y1="1262.00" x2="58.0" y2="1262.00" stroke="#000" stroke-width="3.0"/><line x1="49.3" y1="1209.80" x2="58.0" y2="1209.80" stroke="#000" stroke-width="3.0"/><line x1="49.3" y1="1157.60" x2="58.0" y2="1157.60" stroke="#000" stroke-width="3.0"/><line x1="49.3" y1="1105.40" x2="58.0" y2="1105.40" stroke="#000" stroke-width="3.0"/><line x1="72.0" y1="1314.2" x2="72.0" y2="1323.2" stroke="#000" stroke-width="2.8"/><line x1="94.2" y1="1314.2" x2="94.2" y2="1323.2" stroke="#000" stroke-width="2.8"/><line x1="123.0" y1="1314.2" x2="123.0" y2="1323.2" stroke="#000" stroke-width="2.8"/><line x1="145.2" y1="1314.2" x2="145.2" y2="1323.2" stroke="#000" stroke-width="2.8"/><line x1="174.1" y1="1314.2" x2="174.1" y2="1323.2" stroke="#000" stroke-width="2.8"/><line x1="196.3" y1="1314.2" x2="196.3" y2="1323.2" stroke="#000" stroke-width="2.8"/><line x1="225.1" y1="1314.2" x2="225.1" y2="1323.2" stroke="#000" stroke-width="2.8"/><line x1="247.3" y1="1314.2" x2="247.3" y2="1323.2" stroke="#000" stroke-width="2.8"/><line x1="276.1" y1="1314.2" x2="276.1" y2="1323.2" stroke="#000" stroke-width="2.8"/><line x1="298.3" y1="1314.2" x2="298.3" y2="1323.2" stroke="#000" stroke-width="2.8"/><line x1="327.1" y1="1314.2" x2="327.1" y2="1323.2" stroke="#000" stroke-width="2.8"/><line x1="349.3" y1="1314.2" x2="349.3" y2="1323.2" stroke="#000" stroke-width="2.8"/><line x1="378.2" y1="1314.2" x2="378.2" y2="1323.2" stroke="#000" stroke-width="2.8"/><line x1="400.4" y1="1314.2" x2="400.4" y2="1323.2" stroke="#000" stroke-width="2.8"/><line x1="429.2" y1="1314.2" x2="429.2" y2="1323.2" stroke="#000" stroke-width="2.8"/><line x1="451.4" y1="1314.2" x2="451.4" y2="1323.2" stroke="#000" stroke-width="2.8"/><line x1="480.2" y1="1314.2" x2="480.2" y2="1323.2" stroke="#000" stroke-width="2.8"/><line x1="502.4" y1="1314.2" x2="502.4" y2="1323.2" stroke="#000" stroke-width="2.8"/><line x1="531.3" y1="1314.2" x2="531.3" y2="1323.2" stroke="#000" stroke-width="2.8"/><line x1="553.5" y1="1314.2" x2="553.5" y2="1323.2" stroke="#000" stroke-width="2.8"/><line x1="582.3" y1="1314.2" x2="582.3" y2="1323.2" stroke="#000" stroke-width="2.8"/><line x1="604.5" y1="1314.2" x2="604.5" y2="1323.2" stroke="#000" stroke-width="2.8"/><line x1="633.3" y1="1314.2" x2="633.3" y2="1323.2" stroke="#000" stroke-width="2.8"/><line x1="655.5" y1="1314.2" x2="655.5" y2="1323.2" stroke="#000" stroke-width="2.8"/>
<text x="254.85" y="882.90" font-size="19.19" textLength="218.56" lengthAdjust="spacingAndGlyphs" font-weight="bold">HeLa FAP-TRF1 VE822</text>
<text x="7.18" y="1067.50" font-size="17.44" textLength="12.70" lengthAdjust="spacingAndGlyphs" font-weight="bold">C</text>
<text transform="translate(18.00,1304.48) rotate(-90)" x="0" y="0" font-size="24.13" font-weight="bold" textLength="188.85" lengthAdjust="spacingAndGlyphs">MN per 100 Cells</text>
<text x="37.94" y="1319.60" font-size="15.99" textLength="9.24" lengthAdjust="spacingAndGlyphs" font-weight="bold">0</text>
<text x="28.44" y="1267.40" font-size="15.99" textLength="18.75" lengthAdjust="spacingAndGlyphs" font-weight="bold">10</text>
<text x="28.93" y="1215.20" font-size="15.99" textLength="18.24" lengthAdjust="spacingAndGlyphs" font-weight="bold">20</text>
<text x="29.13" y="1163.00" font-size="15.99" textLength="18.04" lengthAdjust="spacingAndGlyphs" font-weight="bold">30</text>
<text x="29.26" y="1110.80" font-size="15.99" textLength="17.90" lengthAdjust="spacingAndGlyphs" font-weight="bold">40</text>
<text x="59.85" y="1339.60" font-size="15.41" textLength="21.02" lengthAdjust="spacingAndGlyphs" font-weight="bold">UT</text>
<text x="83.98" y="1339.60" font-size="15.41" textLength="20.39" lengthAdjust="spacingAndGlyphs" font-weight="bold">DL</text>
<text x="110.85" y="1339.60" font-size="15.41" textLength="21.02" lengthAdjust="spacingAndGlyphs" font-weight="bold">UT</text>
<text x="134.98" y="1339.60" font-size="15.41" textLength="20.39" lengthAdjust="spacingAndGlyphs" font-weight="bold">DL</text>
<text x="161.95" y="1339.60" font-size="15.41" textLength="21.02" lengthAdjust="spacingAndGlyphs" font-weight="bold">UT</text>
<text x="186.08" y="1339.60" font-size="15.41" textLength="20.39" lengthAdjust="spacingAndGlyphs" font-weight="bold">DL</text>
<text x="212.95" y="1339.60" font-size="15.41" textLength="21.02" lengthAdjust="spacingAndGlyphs" font-weight="bold">UT</text>
<text x="237.08" y="1339.60" font-size="15.41" textLength="20.39" lengthAdjust="spacingAndGlyphs" font-weight="bold">DL</text>
<text x="263.95" y="1339.60" font-size="15.41" textLength="21.02" lengthAdjust="spacingAndGlyphs" font-weight="bold">UT</text>
<text x="288.08" y="1339.60" font-size="15.41" textLength="20.39" lengthAdjust="spacingAndGlyphs" font-weight="bold">DL</text>
<text x="314.95" y="1339.60" font-size="15.41" textLength="21.02" lengthAdjust="spacingAndGlyphs" font-weight="bold">UT</text>
<text x="339.08" y="1339.60" font-size="15.41" textLength="20.39" lengthAdjust="spacingAndGlyphs" font-weight="bold">DL</text>
<text x="366.05" y="1339.60" font-size="15.41" textLength="21.02" lengthAdjust="spacingAndGlyphs" font-weight="bold">UT</text>
<text x="390.18" y="1339.60" font-size="15.41" textLength="20.39" lengthAdjust="spacingAndGlyphs" font-weight="bold">DL</text>
<text x="417.05" y="1339.60" font-size="15.41" textLength="21.02" lengthAdjust="spacingAndGlyphs" font-weight="bold">UT</text>
<text x="441.18" y="1339.60" font-size="15.41" textLength="20.39" lengthAdjust="spacingAndGlyphs" font-weight="bold">DL</text>
<text x="468.05" y="1339.60" font-size="15.41" textLength="21.02" lengthAdjust="spacingAndGlyphs" font-weight="bold">UT</text>
<text x="492.18" y="1339.60" font-size="15.41" textLength="20.39" lengthAdjust="spacingAndGlyphs" font-weight="bold">DL</text>
<text x="519.15" y="1339.60" font-size="15.41" textLength="21.02" lengthAdjust="spacingAndGlyphs" font-weight="bold">UT</text>
<text x="543.28" y="1339.60" font-size="15.41" textLength="20.39" lengthAdjust="spacingAndGlyphs" font-weight="bold">DL</text>
<text x="570.15" y="1339.60" font-size="15.41" textLength="21.02" lengthAdjust="spacingAndGlyphs" font-weight="bold">UT</text>
<text x="594.28" y="1339.60" font-size="15.41" textLength="20.39" lengthAdjust="spacingAndGlyphs" font-weight="bold">DL</text>
<text x="621.15" y="1339.60" font-size="15.41" textLength="21.02" lengthAdjust="spacingAndGlyphs" font-weight="bold">UT</text>
<text x="645.28" y="1339.60" font-size="15.41" textLength="20.39" lengthAdjust="spacingAndGlyphs" font-weight="bold">DL</text>
<text x="65.07" y="1366.90" font-size="16.28" textLength="35.92" lengthAdjust="spacingAndGlyphs" font-weight="bold">ASY</text>
<text x="115.39" y="1366.90" font-size="16.28" textLength="39.59" lengthAdjust="spacingAndGlyphs" font-weight="bold">G1/S</text>
<text x="179.50" y="1366.90" font-size="16.28" textLength="11.58" lengthAdjust="spacingAndGlyphs" font-weight="bold">S</text>
<text x="219.57" y="1366.90" font-size="16.28" textLength="35.92" lengthAdjust="spacingAndGlyphs" font-weight="bold">ASY</text>
<text x="269.89" y="1366.90" font-size="16.28" textLength="39.59" lengthAdjust="spacingAndGlyphs" font-weight="bold">G1/S</text>
<text x="333.90" y="1366.90" font-size="16.28" textLength="11.58" lengthAdjust="spacingAndGlyphs" font-weight="bold">S</text>
<text x="370.97" y="1366.90" font-size="16.28" textLength="35.92" lengthAdjust="spacingAndGlyphs" font-weight="bold">ASY</text>
<text x="421.29" y="1366.90" font-size="16.28" textLength="39.59" lengthAdjust="spacingAndGlyphs" font-weight="bold">G1/S</text>
<text x="485.30" y="1366.90" font-size="16.28" textLength="11.58" lengthAdjust="spacingAndGlyphs" font-weight="bold">S</text>
<text x="525.47" y="1366.90" font-size="16.28" textLength="35.92" lengthAdjust="spacingAndGlyphs" font-weight="bold">ASY</text>
<text x="575.79" y="1366.90" font-size="16.28" textLength="39.59" lengthAdjust="spacingAndGlyphs" font-weight="bold">G1/S</text>
<text x="639.80" y="1366.90" font-size="16.28" textLength="11.58" lengthAdjust="spacingAndGlyphs" font-weight="bold">S</text>
<line x1="65.5" y1="1378.1" x2="206.0" y2="1378.1" stroke="#000" stroke-width="3.2"/>
<line x1="222.5" y1="1378.1" x2="362.5" y2="1378.1" stroke="#000" stroke-width="3.2"/>
<line x1="370.4" y1="1378.1" x2="511.4" y2="1378.1" stroke="#000" stroke-width="3.2"/>
<line x1="527.8" y1="1378.1" x2="668.8" y2="1378.1" stroke="#000" stroke-width="3.2"/>
<text x="104.65" y="1400.30" font-size="19.48" textLength="73.72" lengthAdjust="spacingAndGlyphs" font-weight="bold">Control</text>
<text x="283.47" y="1400.30" font-size="19.48" textLength="24.75" lengthAdjust="spacingAndGlyphs" font-weight="bold">VE</text>
<text x="415.67" y="1400.30" font-size="19.48" textLength="60.97" lengthAdjust="spacingAndGlyphs" font-weight="bold">CDC7i</text>
<text x="551.16" y="1400.30" font-size="19.48" textLength="93.27" lengthAdjust="spacingAndGlyphs" font-weight="bold">VE/CDC7i</text>
<path d="M298.1 926.6V914.5H603.8V926.6" stroke="#000" stroke-width="2.2" fill="none" stroke-linejoin="miter"/>
<path d="M246.9 970.2V958.7H553.2V970.2" stroke="#000" stroke-width="2.2" fill="none" stroke-linejoin="miter"/>
<path d="M246.9 1029.9V1018.6H345.6V1029.9" stroke="#000" stroke-width="2.2" fill="none" stroke-linejoin="miter"/>
<path d="M353.3 1014.2V1002.8H655.3V1014.2" stroke="#000" stroke-width="2.2" fill="none" stroke-linejoin="miter"/>
<path d="M552.6 1059.2V1047.8H655.5V1059.2" stroke="#000" stroke-width="2.2" fill="none" stroke-linejoin="miter"/>
<path d="M246.9 1074.1V1062.8H294.1V1074.1" stroke="#000" stroke-width="2.2" fill="none" stroke-linejoin="miter"/>
<path d="M302.1 1074.1V1062.8H349.8V1074.1" stroke="#000" stroke-width="2.2" fill="none" stroke-linejoin="miter"/>
<path d="M552.6 1098.9V1087.6H600.4V1098.9" stroke="#000" stroke-width="2.2" fill="none" stroke-linejoin="miter"/>
<path d="M607.9 1098.9V1087.6H655.5V1098.9" stroke="#000" stroke-width="2.2" fill="none" stroke-linejoin="miter"/>
<path d="M225.7 1118.2V1106.6H247.5V1118.2" stroke="#000" stroke-width="2.2" fill="none" stroke-linejoin="miter"/>
<path d="M276.3 1118.2V1106.6H298.8V1118.2" stroke="#000" stroke-width="2.2" fill="none" stroke-linejoin="miter"/>
<path d="M327.0 1118.2V1106.6H349.8V1118.2" stroke="#000" stroke-width="2.2" fill="none" stroke-linejoin="miter"/>
<path d="M530.6 1143.1V1131.4H553.8V1143.1" stroke="#000" stroke-width="2.2" fill="none" stroke-linejoin="miter"/>
<path d="M581.9 1143.1V1131.4H604.4V1143.1" stroke="#000" stroke-width="2.2" fill="none" stroke-linejoin="miter"/>
<path d="M632.8 1143.1V1131.4H655.9V1143.1" stroke="#000" stroke-width="2.2" fill="none" stroke-linejoin="miter"/>
<path d="M451.00 896.30V905.30M446.50 898.41L455.50 903.19M446.50 903.19L455.50 898.41" stroke="#000" stroke-width="1.9" fill="none"/>
<text x="390.94" y="948.10" font-size="16.30" textLength="18.38" lengthAdjust="spacingAndGlyphs">ns</text>
<path d="M277.80 1000.20V1009.20M273.30 1002.31L282.30 1007.09M273.30 1007.09L282.30 1002.31" stroke="#000" stroke-width="1.9" fill="none"/><path d="M290.20 1000.20V1009.20M285.70 1002.31L294.70 1007.09M285.70 1007.09L294.70 1002.31" stroke="#000" stroke-width="1.9" fill="none"/><path d="M302.60 1000.20V1009.20M298.10 1002.31L307.10 1007.09M298.10 1007.09L307.10 1002.31" stroke="#000" stroke-width="1.9" fill="none"/><path d="M315.00 1000.20V1009.20M310.50 1002.31L319.50 1007.09M310.50 1007.09L319.50 1002.31" stroke="#000" stroke-width="1.9" fill="none"/>
<path d="M491.90 984.10V993.10M487.40 986.21L496.40 990.99M487.40 990.99L496.40 986.21" stroke="#000" stroke-width="1.9" fill="none"/><path d="M504.30 984.10V993.10M499.80 986.21L508.80 990.99M499.80 990.99L508.80 986.21" stroke="#000" stroke-width="1.9" fill="none"/><path d="M516.70 984.10V993.10M512.20 986.21L521.20 990.99M512.20 990.99L521.20 986.21" stroke="#000" stroke-width="1.9" fill="none"/>
<text x="594.84" y="1037.40" font-size="16.30" textLength="18.38" lengthAdjust="spacingAndGlyphs">ns</text>
<path d="M251.90 1043.70V1052.70M247.40 1045.81L256.40 1050.59M247.40 1050.59L256.40 1045.81" stroke="#000" stroke-width="1.9" fill="none"/><path d="M264.30 1043.70V1052.70M259.80 1045.81L268.80 1050.59M259.80 1050.59L268.80 1045.81" stroke="#000" stroke-width="1.9" fill="none"/><path d="M276.70 1043.70V1052.70M272.20 1045.81L281.20 1050.59M272.20 1050.59L281.20 1045.81" stroke="#000" stroke-width="1.9" fill="none"/><path d="M289.10 1043.70V1052.70M284.60 1045.81L293.60 1050.59M284.60 1050.59L293.60 1045.81" stroke="#000" stroke-width="1.9" fill="none"/>
<text x="316.54" y="1052.70" font-size="16.30" textLength="18.38" lengthAdjust="spacingAndGlyphs">ns</text>
<path d="M570.50 1068.90V1077.90M566.00 1071.01L575.00 1075.79M566.00 1075.79L575.00 1071.01" stroke="#000" stroke-width="1.9" fill="none"/><path d="M582.90 1068.90V1077.90M578.40 1071.01L587.40 1075.79M578.40 1075.79L587.40 1071.01" stroke="#000" stroke-width="1.9" fill="none"/>
<text x="622.04" y="1076.90" font-size="16.30" textLength="18.38" lengthAdjust="spacingAndGlyphs">ns</text>
<text x="226.94" y="1096.10" font-size="16.30" textLength="18.38" lengthAdjust="spacingAndGlyphs">ns</text>
<path d="M287.50 1088.80V1097.80M283.00 1090.91L292.00 1095.69M283.00 1095.69L292.00 1090.91" stroke="#000" stroke-width="1.9" fill="none"/>
<path d="M319.40 1088.80V1097.80M314.90 1090.91L323.90 1095.69M314.90 1095.69L323.90 1090.91" stroke="#000" stroke-width="1.9" fill="none"/><path d="M331.80 1088.80V1097.80M327.30 1090.91L336.30 1095.69M327.30 1095.69L336.30 1090.91" stroke="#000" stroke-width="1.9" fill="none"/><path d="M344.20 1088.80V1097.80M339.70 1090.91L348.70 1095.69M339.70 1095.69L348.70 1090.91" stroke="#000" stroke-width="1.9" fill="none"/><path d="M356.60 1088.80V1097.80M352.10 1090.91L361.10 1095.69M352.10 1095.69L361.10 1090.91" stroke="#000" stroke-width="1.9" fill="none"/>
<text x="532.64" y="1121.30" font-size="16.30" textLength="18.38" lengthAdjust="spacingAndGlyphs">ns</text>
<path d="M587.10 1113.20V1122.20M582.60 1115.31L591.60 1120.09M582.60 1120.09L591.60 1115.31" stroke="#000" stroke-width="1.9" fill="none"/><path d="M599.50 1113.20V1122.20M595.00 1115.31L604.00 1120.09M595.00 1120.09L604.00 1115.31" stroke="#000" stroke-width="1.9" fill="none"/>
<text x="634.94" y="1121.30" font-size="16.30" textLength="18.38" lengthAdjust="spacingAndGlyphs">ns</text>
</svg>
</body></html>
